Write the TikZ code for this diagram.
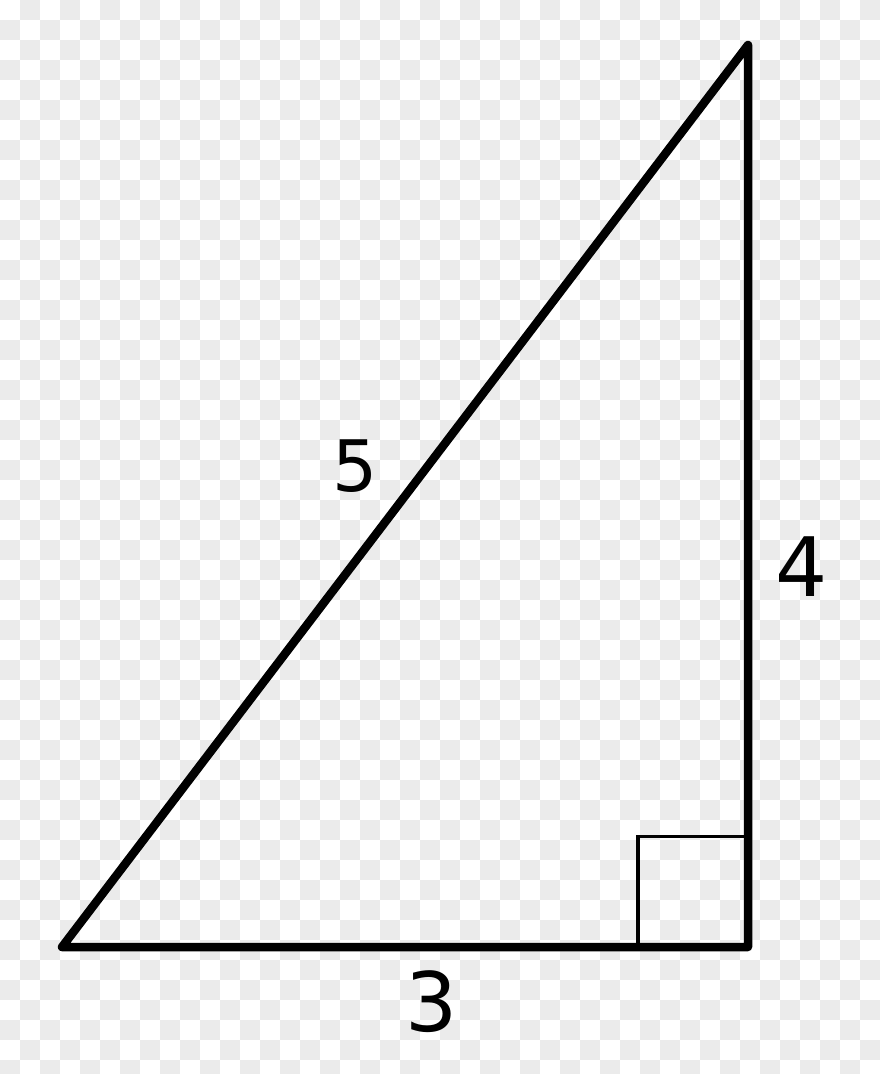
\documentclass[tikz,border=0pt]{standalone}
\usepackage{fontspec}
\setmainfont{DejaVu Sans}
\usepackage{tikz}
\definecolor{checkGray}{RGB}{235, 235, 235}
\usetikzlibrary{calc}

\begin{document}
\begin{tikzpicture}[x=1pt, y=-1pt]
        \useasboundingbox (0,0) rectangle (880,1074);
        \clip (0,0) rectangle (880,1074);
        % transparency checkerboard
        \fill[white] (0,0) rectangle (880,1074);
        \foreach \i in {0,...,43} {
            \foreach \j in {0,...,53} {
                \pgfmathtruncatemacro\odd{mod(\i+\j,2)}
                \ifnum\odd=1 \fill[checkGray] (20*\i,20*\j) rectangle ++(20,20); \fi
            }
        }
        \coordinate (corner) at (748,947);
        \coordinate (left) at (62,947);
        \coordinate (top) at (748,45);
        \draw[line width=3.5pt] (638,947) |- (748,836.5);
        \draw[line width=8.5pt, line join=round] (left) -- (corner) -- (top) -- cycle;
        \node[font=\fontsize{71}{80}\selectfont] (hyp) at (355,466) {5};
        \node[font=\fontsize{82}{95}\selectfont] (leg) at (801.5,567) {4};
        \node[font=\fontsize{82}{95}\selectfont] (base) at (431.5,1002) {3};
    \end{tikzpicture}
\end{document}
